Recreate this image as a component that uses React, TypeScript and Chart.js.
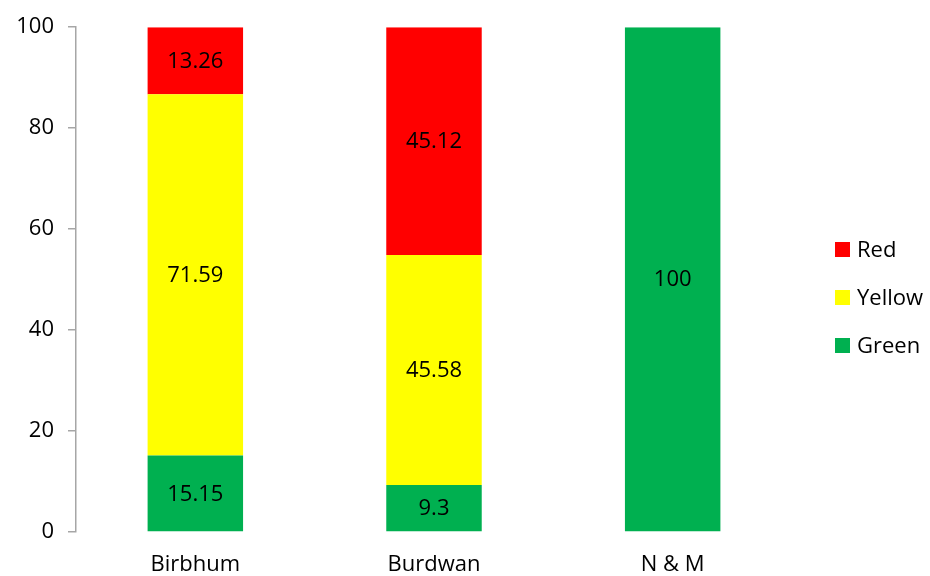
import React, { useEffect, useRef } from "react";
import { Chart, registerables } from "chart.js";

Chart.register(...registerables);

const categories = ["Birbhum", "Burdwan", "N & M"];
const greenValues = [15.15, 9.3, 100];
const yellowValues = [71.59, 45.58, 0];
const redValues = [13.26, 45.12, 0];
const yTicks = [0, 20, 40, 60, 80, 100];

const FONT = "'Open Sans', sans-serif";
const FS = 22;

const valueLabels = {
  id: "valueLabels",
  afterDatasetsDraw(chart: any) {
    const ctx = chart.ctx;
    ctx.save();
    ctx.font = `${FS}px ${FONT}`;
    ctx.fillStyle = "#000";
    ctx.textAlign = "center";
    ctx.textBaseline = "middle";
    chart.data.datasets.forEach((ds: any, di: number) => {
      const meta = chart.getDatasetMeta(di);
      meta.data.forEach((bar: any, i: number) => {
        const v = ds.data[i];
        if (!v) return;
        const y = (bar.y + bar.base) / 2 + 1;
        ctx.fillText(String(v), bar.x, y);
      });
    });
    ctx.restore();
  },
};

const sideLegend = {
  id: "sideLegend",
  afterDraw(chart: any) {
    const ctx = chart.ctx;
    ctx.save();
    ctx.font = `${FS}px ${FONT}`;
    ctx.textBaseline = "middle";
    ctx.textAlign = "left";
    const items = [...chart.data.datasets].reverse();
    items.forEach((ds: any, i: number) => {
      const cy = 249.5 + i * 48;
      ctx.fillStyle = ds.backgroundColor;
      ctx.fillRect(835, cy - 7.5, 15, 15);
      ctx.fillStyle = "#000";
      ctx.fillText(ds.label, 857, cy + 1);
    });
    ctx.restore();
  },
};

export default function App() {
  const ref = useRef<HTMLCanvasElement>(null);
  useEffect(() => {
    document.body.style.margin = "0";
    const chart = new Chart(ref.current!, {
      type: "bar",
      data: {
        labels: categories,
        datasets: [
          { label: "Green", data: greenValues, backgroundColor: "#00B050" },
          { label: "Yellow", data: yellowValues, backgroundColor: "#FFFF00" },
          { label: "Red", data: redValues, backgroundColor: "#FF0000" },
        ],
      },
      options: {
        animation: false,
        responsive: false,
        maintainAspectRatio: false,
        layout: { padding: { top: 26, right: 138, left: 0, bottom: 0 } },
        datasets: { bar: { categoryPercentage: 1, barPercentage: 0.4 } },
        plugins: { legend: { display: false }, tooltip: { enabled: false } },
        scales: {
          x: {
            stacked: true,
            grid: { display: false, drawTicks: false },
            border: { display: false },
            ticks: { color: "#000", font: { size: FS, family: FONT }, padding: 20 },
            afterFit: (s: any) => { s.height = 44; },
          },
          y: {
            stacked: true,
            min: 0,
            max: 100,
            afterBuildTicks: (s: any) => { s.ticks = yTicks.map((v) => ({ value: v })); },
            grid: { drawOnChartArea: false, drawTicks: true, tickLength: 8, color: "#A6A6A6", lineWidth: 1.5 },
            border: { display: true, color: "#A6A6A6", width: 1.5 },
            ticks: { color: "#000", font: { size: FS, family: FONT }, padding: 14 },
            afterFit: (s: any) => { s.width = 76; },
          },
        },
      },
      plugins: [valueLabels, sideLegend],
    });
    return () => chart.destroy();
  }, []);
  return <canvas ref={ref} width={930} height={576} style={{ display: "block" }} />;
}
